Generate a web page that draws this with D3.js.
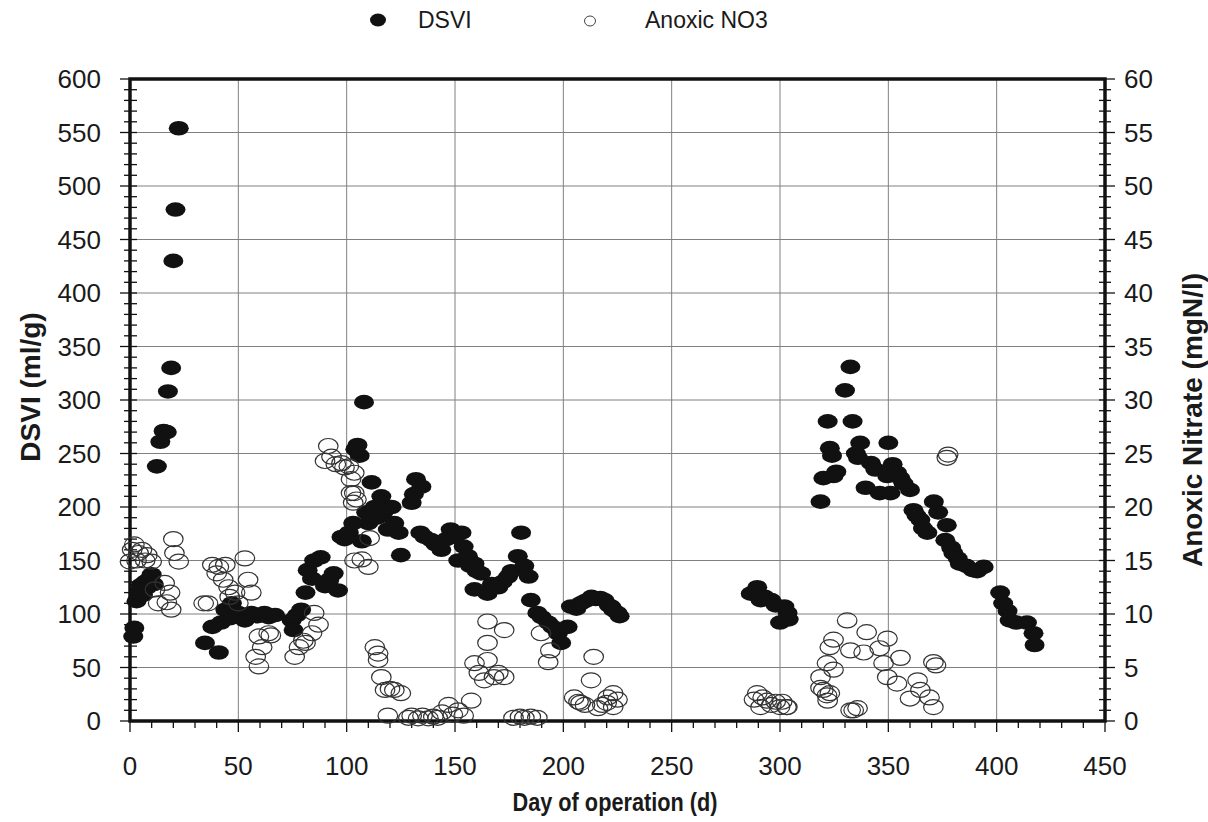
<!DOCTYPE html>
<html>
<head>
<meta charset="utf-8">
<script src="https://cdn.jsdelivr.net/npm/d3@7"></script>
<style>
  body { margin: 0; background: #fff; }
  svg { font-family: "Liberation Sans", Arial, sans-serif; }
</style>
</head>
<body>
<svg id="chart" width="1208" height="822"></svg>
<script>
// DSVI (filled) - [day, ml/g]
var dsviPoints = [
  [1.5,79],[2,87],[3,112],[4,120],[5,127],[6,118],[7,130],[8,125],[9,133],[10,137],[11,128],
  [12.4,238],[14,261],[15.5,271],[17,270],[17.5,308],[19,330],[20,430],[21,478],[22.5,554],
  [34.6,73],[38,88],[41,64],[42,92],[44,104],[46,96],[47,110],[50,101],[53,94],[56,101],[59,98],[62,101],[64,97],[67,99],
  [74.6,94],[75.5,85],[77,99],[79,104],[81,120],[82,141],[84,133],[85,150],[88,153],[90,126],[92,132],[94,138],[96,122],
  [97.6,172],[99,170],[101,176],[103,185],[104,254],[105,258],[106,248],[107,168],[108,298],[109,195],[110,185],
  [111.5,223],[113,200],[114,190],[116,210],[117,195],[119,179],[120.7,200],[122,185],[124,176],[125,155],
  [130,204],[131,212],[132,226],[134.5,219],[134,176],[136,172],[139,169],[141,165],[143.7,160],[146,170],[148,179],
  [150,172],[151.5,150],[153,176],[154,163],[156,154],[157,145],[159,147],[160,140],[162,138],[159,123],[165,119],
  [167,128],[170,125],[172,130],[174.5,135],[176,140],[179,154],[180.5,176],[182,145],[184,135],[185,113],[188,101],
  [190,97],[193,92],[195,88],[197.5,82],[199,73],[202,88],[203.5,107],[206,105],[208,110],[210,112],[213,116],
  [215,114],[217,115],[219,113],[221,108],[222,107],[223,104],[225,101],[226,98],
  [286.5,119],[289.5,125],[291,113],[293,116],[296,113],[298,108],[300,92],[302,107],[303.5,101],[304,95],
  [318.7,205],[320,227],[322,280],[323,255],[324,248],[324.7,229],[326,233],[330,309],[332.5,331],[333.5,280],
  [335,250],[336,246],[337,260],[339.5,218],[342,241],[344,235],[346,213],[349.5,229],[350,260],[351,213],[352,240],
  [354,232],[355.6,227],[357,222],[360,216],[361.6,197],[363,192],[364.8,188],[366,180],[368,176],[371,205],[373,195],
  [376.3,169],[377,183],[379,162],[380,157],[382,152],[383,147],[386,145],[389,141],[391,140],[394,144],
  [401.6,120],[403,110],[405,103],[406,94],[409,92],[414,92],[417,82],[417.5,71]
];

// Anoxic NO3 (open) - [day, mgN/l]
var nitratePoints = [
  [0,14.9],[1,16],[2,16.5],[3,15],[4,15.7],[5.5,16],[7,15],[8,15.5],[10,14.9],[11.5,12.3],[13,11],[16,12.9],
  [17,11.1],[18.5,12],[19,10.4],[20,17],[20.5,15.7],[22.5,14.9],
  [34,11],[36,11],[38,14.6],[40,13.8],[41,14.4],[43,13.2],[44,14.6],[45.5,12.5],[46,11.6],[48.5,12],[50,11],
  [53,15.2],[54.5,13.2],[56,12],[58,6],[59.5,7.9],[59.5,5.1],[61,6.9],[64,8.2],[65,8],
  [76,6],[78,6.9],[80,7.5],[81,7.3],[84,8.2],[85,10.1],[87,9],[90,24.3],[91.5,25.7],[93,24.7],[95,24],[97.6,24.1],
  [99,23.7],[101,23.8],[102,22.6],[103.5,23.2],[102,21.3],[103.5,21.3],[104.5,20.7],[103,20.4],[103.6,15],
  [107,15.1],[110,14.4],[110.6,17.1],
  [113,6.9],[114.5,6.3],[114.5,5.7],[116,4.1],[117.7,2.9],[120,3],[122,2.9],[125,2.6],[119,0.5],[128.5,0.3],
  [130,0.5],[133,0.25],[135,0.5],[137.7,0.25],[140,0.4],[142,0.3],[144,0.8],[147,1.5],[149,0.6],[151.5,1],
  [154,0.5],[157.5,1.9],[159,5.4],[161,4.5],[163.5,3.8],[165,5.7],[165,7.3],[165,9.3],[168,4.1],[170,4.5],
  [172.7,4.1],[172.7,8.5],
  [177,0.3],[180,0.4],[182,0.3],[185,0.4],[188,0.3],[189.7,8.2],[193,5.5],[194,6.6],[205,2.2],[207,1.8],[208,1.7],
  [210,1.5],[212.8,3.8],[214,6],[216,1.2],[218,1.5],[220,1.7],[220.5,2.2],[223,2.6],[223,1.3],[225,2],
  [288,2],[289.5,2.6],[291,1.3],[292,2.2],[294,1.9],[296,1.5],[298,1.8],[300,1.3],[301,1.8],[303,1.3],[303.4,1.3],
  [318.7,4.1],[318.7,3.1],[320,2.9],[321.7,5.4],[321.7,2.4],[322,1.9],[323,6.9],[323,2.6],[324.7,7.6],[324.7,4.8],
  [331,9.4],[332.5,6.6],[332.6,1],[334,1],[335.8,1.2],[338.6,6.4],[340,8.3],[346,6.8],[347.8,5.4],[349.5,4.1],
  [349.6,7.7],[354,3.5],[355.6,5.9],[360,2.1],[363.5,3.8],[364.8,2.9],[369,2.2],[370.8,5.5],[370.8,1.3],[372,5.2],
  [377,24.6],[377.6,24.9]
];

var xTicks = [0, 50, 100, 150, 200, 250, 300, 350, 400, 450];
var yLeftTicks = [0, 50, 100, 150, 200, 250, 300, 350, 400, 450, 500, 550, 600];
var yRightTicks = [0, 5, 10, 15, 20, 25, 30, 35, 40, 45, 50, 55, 60];

var legendNames = ["DSVI", "Anoxic NO3"];

// Plot box
var plotL = 130, plotR = 1105, plotT = 79, plotB = 721;

var svg = d3.select("#chart");

var x = d3.scaleLinear().domain([0, 450]).range([plotL, plotR]);
var yL = d3.scaleLinear().domain([0, 600]).range([plotB, plotT]);
var yR = d3.scaleLinear().domain([0, 60]).range([plotB, plotT]);

// Grid lines
var grid = svg.append("g").attr("stroke", "#808080").attr("stroke-width", 1);
grid.selectAll("line.v")
    .data(xTicks.slice(1, -1))
    .enter().append("line")
    .attr("x1", function(d) { return x(d); })
    .attr("x2", function(d) { return x(d); })
    .attr("y1", plotT).attr("y2", plotB);
grid.selectAll("line.h")
    .data(yLeftTicks.slice(1, -1))
    .enter().append("line")
    .attr("x1", plotL).attr("x2", plotR)
    .attr("y1", function(d) { return yL(d); })
    .attr("y2", function(d) { return yL(d); });

// Minor ticks
var ticks = svg.append("g").attr("stroke", "#111").attr("stroke-width", 1.3);
ticks.selectAll("line.lm")
    .data(d3.range(0, 601, 10))
    .enter().append("line")
    .attr("x1", function(d) { return d % 50 === 0 ? plotL - 10 : plotL - 6; })
    .attr("x2", plotL + 7)
    .attr("y1", function(d) { return yL(d); })
    .attr("y2", function(d) { return yL(d); });
ticks.selectAll("line.rm")
    .data(d3.range(0, 61, 1))
    .enter().append("line")
    .attr("x1", plotR - 6)
    .attr("x2", function(d) { return d % 5 === 0 ? plotR + 10 : plotR + 6; })
    .attr("y1", function(d) { return yR(d); })
    .attr("y2", function(d) { return yR(d); });
ticks.selectAll("line.bm")
    .data(d3.range(0, 451, 10))
    .enter().append("line")
    .attr("x1", function(d) { return x(d); })
    .attr("x2", function(d) { return x(d); })
    .attr("y1", plotB)
    .attr("y2", function(d) { return d % 50 === 0 ? plotB + 11 : plotB + 7; });

// Frame
svg.append("rect")
    .attr("x", plotL).attr("y", plotT)
    .attr("width", plotR - plotL).attr("height", plotB - plotT)
    .attr("fill", "none").attr("stroke", "#111").attr("stroke-width", 3.5);

// Points: DSVI filled, nitrate open on top
svg.append("g").selectAll("ellipse")
    .data(dsviPoints)
    .enter().append("ellipse")
    .attr("cx", function(d) { return x(d[0]); })
    .attr("cy", function(d) { return yL(d[1]); })
    .attr("rx", 10).attr("ry", 7.3)
    .attr("fill", "#111");

svg.append("g").selectAll("ellipse")
    .data(nitratePoints)
    .enter().append("ellipse")
    .attr("cx", function(d) { return x(d[0]); })
    .attr("cy", function(d) { return yR(d[1]); })
    .attr("rx", 9.8).attr("ry", 7.5)
    .attr("fill", "none")
    .attr("stroke", "#333").attr("stroke-width", 1.2);

// Tick labels
var labelStyle = function(sel) {
    sel.attr("font-size", 26).attr("fill", "#1a1a1a");
};
svg.append("g").selectAll("text")
    .data(xTicks)
    .enter().append("text")
    .attr("x", function(d) { return x(d); })
    .attr("y", 775)
    .attr("text-anchor", "middle")
    .text(function(d) { return d; })
    .call(labelStyle);
svg.append("g").selectAll("text")
    .data(yLeftTicks)
    .enter().append("text")
    .attr("x", 101)
    .attr("y", function(d) { return yL(d) + 9; })
    .attr("text-anchor", "end")
    .text(function(d) { return d; })
    .call(labelStyle);
svg.append("g").selectAll("text")
    .data(yRightTicks)
    .enter().append("text")
    .attr("x", 1124)
    .attr("y", function(d) { return yR(d) + 9; })
    .attr("text-anchor", "start")
    .text(function(d) { return d; })
    .call(labelStyle);

// Axis titles
svg.append("text")
    .attr("x", 615).attr("y", 811)
    .attr("text-anchor", "middle")
    .attr("font-size", 25).attr("font-weight", "bold").attr("fill", "#1a1a1a")
    .attr("textLength", 205).attr("lengthAdjust", "spacingAndGlyphs")
    .text("Day of operation (d)");
svg.append("text")
    .attr("transform", "translate(40,387) rotate(-90)")
    .attr("text-anchor", "middle")
    .attr("font-size", 28).attr("font-weight", "bold").attr("fill", "#1a1a1a")
    .text("DSVI (ml/g)");
svg.append("text")
    .attr("transform", "translate(1202,420) rotate(-90)")
    .attr("text-anchor", "middle")
    .attr("font-size", 28).attr("font-weight", "bold").attr("fill", "#1a1a1a")
    .text("Anoxic Nitrate (mgN/l)");

// Legend
var legend = svg.append("g");
legend.append("ellipse")
    .attr("cx", 378).attr("cy", 20).attr("rx", 8).attr("ry", 6.5)
    .attr("fill", "#111");
legend.append("text")
    .attr("x", 418).attr("y", 28)
    .attr("font-size", 23).attr("fill", "#1a1a1a")
    .text(legendNames[0]);
legend.append("ellipse")
    .attr("cx", 590).attr("cy", 21).attr("rx", 5.5).attr("ry", 5)
    .attr("fill", "none").attr("stroke", "#444").attr("stroke-width", 1);
legend.append("text")
    .attr("x", 645).attr("y", 28)
    .attr("font-size", 23).attr("fill", "#1a1a1a")
    .text(legendNames[1]);
</script>
</body>
</html>
